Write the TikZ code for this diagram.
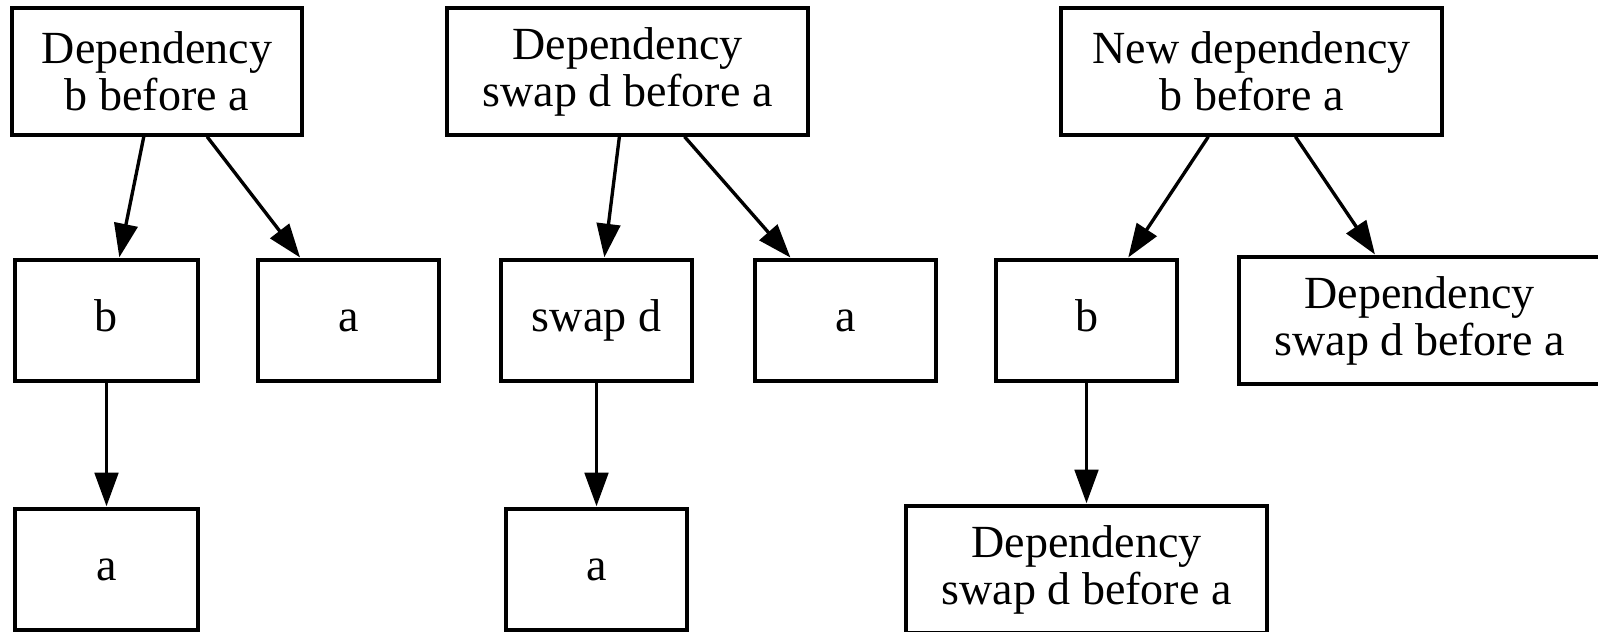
\documentclass[tikz,border=0pt]{standalone}
\usepackage{fontspec}
\setmainfont{Liberation Serif}
\usetikzlibrary{arrows.meta}
\newdimen\pxlen
\pxlen=0.2976pt
\tikzset{
  frame/.style={draw, line width=1pt, rectangle, inner sep=0pt,
    font=\fontsize{13.7}{14}\selectfont, minimum width=#1*\pxlen},
  box/.style={frame=#1, minimum height=121*\pxlen, text height=10pt, text depth=3.2pt},
  tallbox/.style={frame=#1, align=center, minimum height=127*\pxlen},
  arr/.style={line width=1pt, -{Triangle[length=10pt, width=7pt]}, shorten >=0.3pt}
}
\begin{document}
\begin{tikzpicture}[x=0.2976pt, y=-0.2976pt]
\useasboundingbox (0,0) rectangle (1598,631);

% first tree: b before a
\node[tallbox=290] (dep1) at (157,71.5) {Dependency\\b before a};
\node[box=183] (b1) at (106.5,320.5) {b};
\node[box=181] (a1) at (348.5,320.5) {a};
\node[box=183] (a1b) at (106.5,569.5) {a};
\draw[arr] (dep1) -- (b1);
\draw[arr] (dep1) -- (a1);
\draw[arr] (b1) -- (a1b);

% second tree: swap d before a
\node[tallbox=361] (dep2) at (627.5,71.5) {Dependency\\swap d before a};
\node[box=191] (s2) at (596.5,320.5) {swap d};
\node[box=181] (a2) at (845.5,320.5) {a};
\node[box=181] (a2b) at (596.5,569.5) {a};
\draw[arr] (dep2) -- (s2);
\draw[arr] (dep2) -- (a2);
\draw[arr] (s2) -- (a2b);

% third tree: new dependency
\node[tallbox=381] (new3) at (1251.5,71.5) {New dependency\\b before a};
\node[box=181] (b3) at (1086.5,320.5) {b};
\node[tallbox=361] (dep3) at (1419.5,320.5) {Dependency\\swap d before a};
\node[tallbox=361] (dep3b) at (1086.5,569.5) {Dependency\\swap d before a};
\draw[arr] (new3) -- (b3);
\draw[arr] (new3) -- (dep3);
\draw[arr] (b3) -- (dep3b);
\end{tikzpicture}
\end{document}
